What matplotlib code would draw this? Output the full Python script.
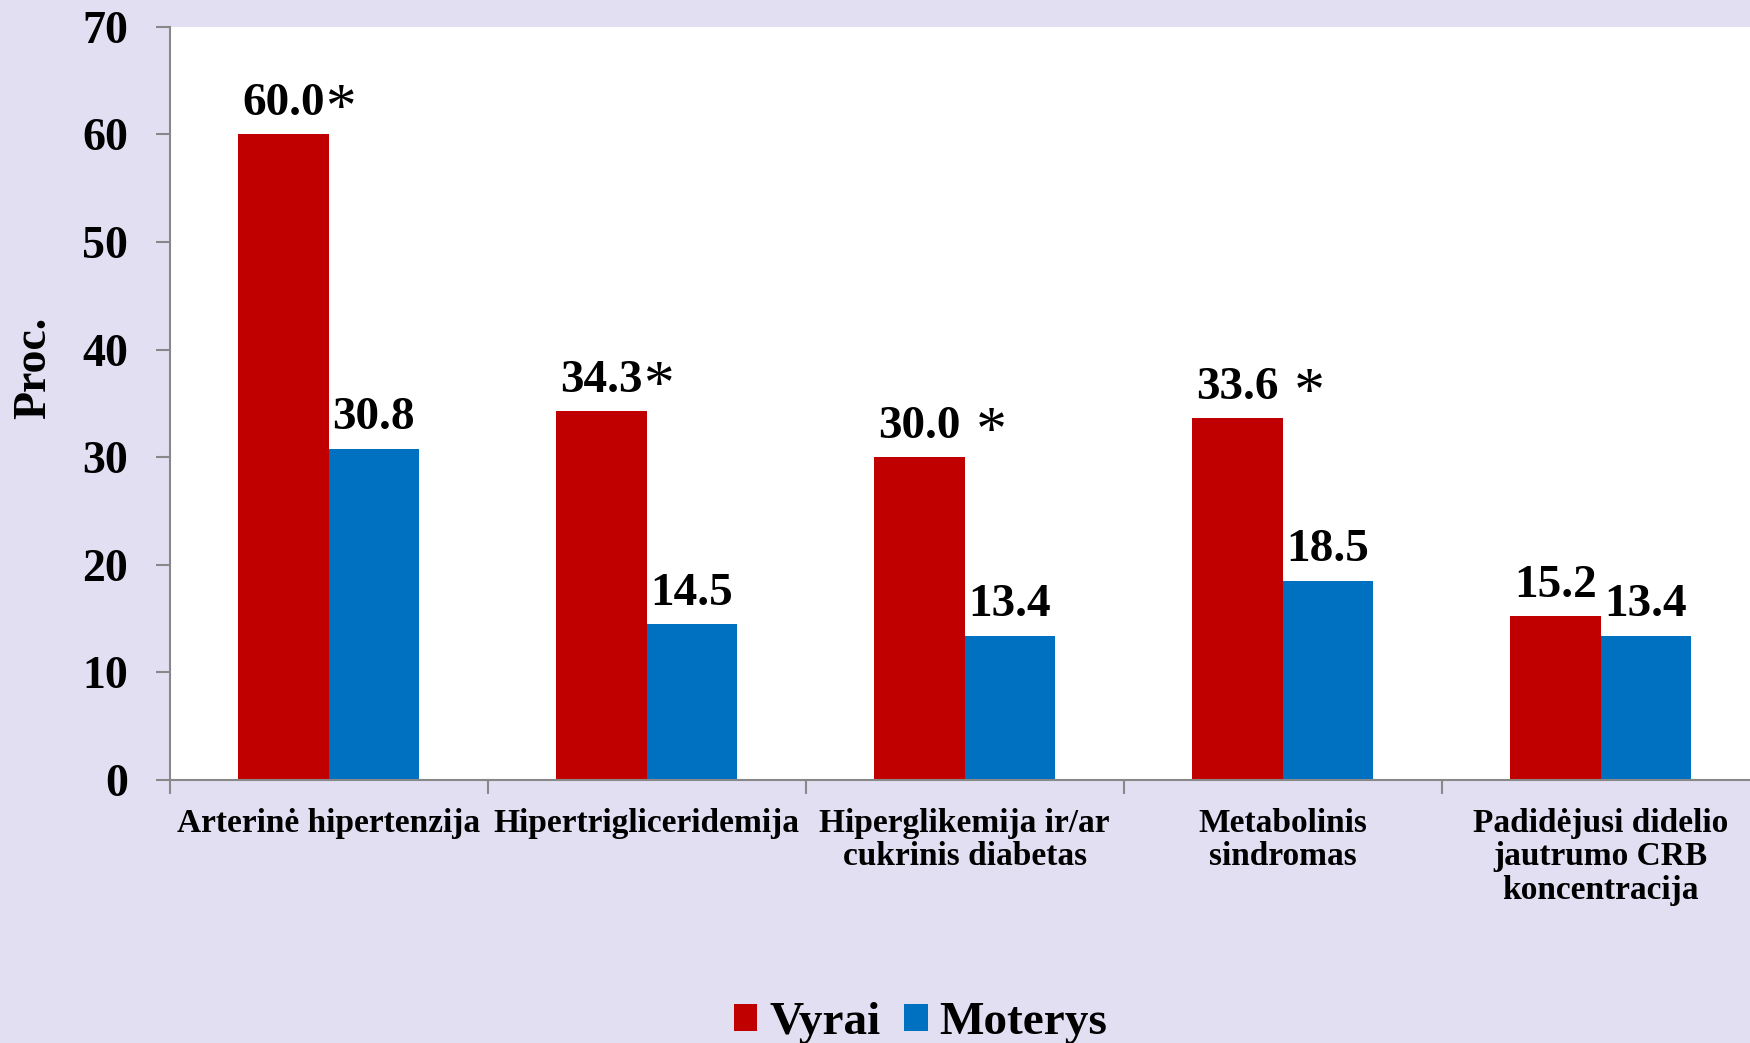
import matplotlib
matplotlib.use("Agg")
import matplotlib.pyplot as plt
import numpy as np

# Chart data
categories = ["Arterinė hipertenzija", "Hipertrigliceridemija",
              "Hiperglikemija ir/ar\ncukrinis diabetas",
              "Metabolinis\nsindromas",
              "Padidėjusi didelio\njautrumo CRB\nkoncentracija"]
vyrai = [60.0, 34.3, 30.0, 33.6, 15.2]
moterys = [30.8, 14.5, 13.4, 18.5, 13.4]
vyrai_marks = ["*", "*", " *", " *", ""]
y_ticks = [0, 10, 20, 30, 40, 50, 60, 70]

plt.rcParams["font.family"] = ["Liberation Serif", "DejaVu Serif"]
plt.rcParams["font.weight"] = "bold"

bg = "#E2DFF3"
red = "#C00000"
blue = "#0070C0"
grey = "#888888"

fig = plt.figure(figsize=(17.5, 10.43), dpi=100, facecolor=bg)
ax = fig.add_axes([0.0969, 0.2522, 0.9086, 0.722])
ax.set_facecolor("white")

x = np.arange(len(categories))
w = 0.284
bars_v = ax.bar(x - w / 2, vyrai, w, color=red, label="Vyrai")
bars_m = ax.bar(x + w / 2, moterys, w, color=blue, label="Moterys")

# value labels, number centred on the bar, asterisk tacked on after it
for xi, val, mark in zip(x - w / 2, vyrai, vyrai_marks):
    t = ax.annotate(f"{val:.1f}", (xi, val), xytext=(0, 14), textcoords="offset points",
                    ha="center", va="baseline", fontsize=34, fontweight="bold")
    if mark:
        ax.annotate(mark, xy=(1, 0), xycoords=t, xytext=(0, 0), textcoords="offset points",
                    ha="left", va="baseline", fontsize=44, fontweight="normal")
for xi, val in zip(x + w / 2, moterys):
    ax.annotate(f"{val:.1f}", (xi, val), xytext=(0, 14), textcoords="offset points",
                ha="center", va="baseline", fontsize=34, fontweight="bold")

ax.set_xlim(-0.5, len(categories) - 0.5)
ax.set_ylim(0, 70)
ax.set_yticks(y_ticks)
ax.set_yticklabels([str(v) for v in y_ticks], fontsize=33, fontweight="bold")

# boundary ticks without labels, category names on minor ticks
ax.set_xticks(np.arange(len(categories) + 1) - 0.5)
ax.set_xticklabels([])
ax.set_xticks(x, minor=True)
ax.set_xticklabels(categories, minor=True, fontsize=24, fontweight="bold",
                   linespacing=1.1)
ax.tick_params(axis="x", which="minor", length=0, pad=20)
ax.tick_params(axis="x", which="major", length=10, width=1.5, color=grey, direction="out")
ax.tick_params(axis="y", length=10, width=1.5, color=grey, direction="out", pad=20)

for s in ["top", "right"]:
    ax.spines[s].set_visible(False)
for s in ["left", "bottom"]:
    ax.spines[s].set_color(grey)
    ax.spines[s].set_linewidth(1.5)

ax.set_ylabel("Proc.", fontsize=33, fontweight="bold", va="center")
ax.yaxis.set_label_coords(-0.085, 0.547)

fig.legend(handles=[bars_v, bars_m], labels=["Vyrai", "Moterys"], loc="center",
           bbox_to_anchor=(0.526, 0.019), ncol=2, frameon=False, fontsize=34,
           handlelength=0.5, handleheight=0.5, handletextpad=0.25,
           columnspacing=0.5, borderpad=0)

fig.savefig("out.png", dpi=100, facecolor=bg)
